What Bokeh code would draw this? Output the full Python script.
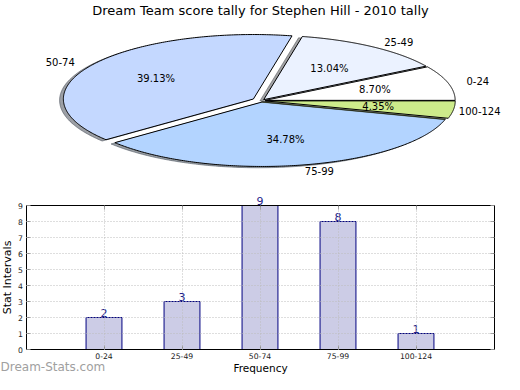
import numpy as np
from bokeh.plotting import figure
from bokeh.models import (ColumnDataSource, Label, Range1d, FixedTicker, LinearAxis, Grid)
from bokeh.layouts import column
from bokeh.embed import file_html
from bokeh.resources import INLINE
from bokeh.core.properties import value

# ---------------- data ----------------
title_text = "Dream Team score tally for Stephen Hill - 2010 tally"
categories = ["0-24", "25-49", "50-74", "75-99", "100-124"]
counts = [2, 3, 9, 8, 1]
pie_colors = ["#FFFFFF", "#EBF2FF", "#C4D8FF", "#B3D4FF", "#CDEB8B"]
explode = [0.02, 0.02, 0.05, 0.02, 0.02]
y_ticks = [0, 1, 2, 3, 4, 5, 6, 7, 8, 9]
y_label = "Stat Intervals"
x_label = "Frequency"
watermark = "Dream-Stats.com"

FONT = "DejaVu Sans"

# ---------------- layout constants ----------------
W = 504
H1 = 190
H2 = 184
RX = 190.0   # px per unit (horizontal)
RY = 64.5    # px per unit (vertical)
CX = 261.0   # pie centre, canvas px from left
CY = 100.2   # pie centre, canvas px from top

# ---------------- pie ----------------
p1 = figure(width=W, height=H1, output_backend="svg", toolbar_location=None,
            x_range=Range1d(-CX / RX, (W - CX) / RX),
            y_range=Range1d(-(H1 - CY) / RY, CY / RY),
            x_axis_location=None, y_axis_location=None, min_border=0, title=None)
p1.grid.visible = False
p1.outline_line_color = None

vals = np.array(counts, dtype=float)
frac = vals / vals.sum()
t2 = np.cumsum(frac) * 2 * np.pi
t1 = t2 - frac * 2 * np.pi
mid = (t1 + t2) / 2
ex = np.array(explode)
ox = ex * np.cos(mid)
oy = ex * np.sin(mid)


def hex_to_rgb(h):
    h = h.lstrip("#")
    return tuple(int(h[i:i + 2], 16) for i in (0, 2, 4))


xs, ys, fc, fa, lc, la = [], [], [], [], [], []
for a, b, dx, dy, col in zip(t1, t2, ox, oy, pie_colors):
    t = np.linspace(a, b, 200)
    px = np.concatenate([[0.0], np.cos(t), [0.0]]) + dx
    py = np.concatenate([[0.0], np.sin(t), [0.0]]) + dy
    r, g, bb = hex_to_rgb(col)
    shade = "#%02x%02x%02x" % (int(r * 0.3), int(g * 0.3), int(bb * 0.3))
    xs.append(list(px - 0.02)); ys.append(list(py - 0.02))
    fc.append(shade); fa.append(0.5); lc.append(shade); la.append(0.5)
    xs.append(list(px)); ys.append(list(py))
    fc.append(col); fa.append(1.0); lc.append("black"); la.append(1.0)

pie_src = ColumnDataSource(dict(xs=xs, ys=ys, fc=fc, fa=fa, lc=lc, la=la))
p1.patches("xs", "ys", source=pie_src, fill_color="fc", fill_alpha="fa",
           line_color="lc", line_alpha="la", line_width=1)

pct = ["%.2f%%" % (f * 100) for f in frac]
pct_src = ColumnDataSource(dict(x=ox + 0.6 * np.cos(mid), y=oy + 0.6 * np.sin(mid), t=pct))
p1.text("x", "y", text="t", source=pct_src, text_align="center", text_baseline="middle",
        text_font=value(FONT), text_font_size="10px", text_color="black")

lx = ox + 1.1 * np.cos(mid)
ly = oy + 1.1 * np.sin(mid)
right = lx > 0
for mask, align in ((right, "left"), (~right, "right")):
    labs = [c for c, m in zip(categories, mask) if m]
    xpx = CX + lx[mask] * RX
    if align == "left":
        # keep the label inside the canvas (approx. 6.1 px per character)
        xo = [min(0.0, (W - 3) - (xp + 6.1 * len(s))) for xp, s in zip(xpx, labs)]
    else:
        xo = [0.0] * len(labs)
    src = ColumnDataSource(dict(x=lx[mask], y=ly[mask], t=labs, xo=xo))
    p1.text("x", "y", text="t", source=src, text_align=align, text_baseline="middle",
            x_offset="xo", text_font=value(FONT), text_font_size="10px",
            text_color="black")

p1.add_layout(Label(x=260, y=H1 - 10, x_units="screen", y_units="screen", text=title_text,
                    text_align="center", text_baseline="middle", text_font=FONT,
                    text_font_size="13px", text_color="black"))

# ---------------- bar chart ----------------
XPX = 78.0             # px per category step
X0 = 103.5             # canvas px of first bar centre
Y9 = 205 - H1          # local px (from top) of value 9
Y0 = 349 - H1          # local px (from top) of value 0
YPX = (Y0 - Y9) / 9.0
LEFT_EDGE = -1.0       # frame edges in category units
RIGHT_EDGE = 5.0

idx = list(range(len(categories)))
p2 = figure(width=W, height=H2, output_backend="svg", toolbar_location=None,
            x_range=Range1d(-X0 / XPX, (W - X0) / XPX),
            y_range=Range1d(-(H2 - Y0) / YPX, 9 + Y9 / YPX),
            x_axis_location=None, y_axis_location=None, min_border=0, title=None)
p2.outline_line_color = None
p2.grid.visible = False

p2.vbar(x=idx, top=counts, width=0.46, fill_color="#CCCCE6",
        line_color="#000080", line_width=1)

# dotted grid drawn over the bars, limited to the inside of the axes box
inner_y = [t for t in y_ticks if y_ticks[0] < t < y_ticks[-1]]
gx = Grid(dimension=0, ticker=FixedTicker(ticks=idx), bounds=(LEFT_EDGE, RIGHT_EDGE),
          grid_line_color="#bdbdbd", grid_line_dash="1 2", level="guide")
gy = Grid(dimension=1, ticker=FixedTicker(ticks=inner_y), bounds=(0, 9),
          grid_line_color="#bdbdbd", grid_line_dash="1 2", level="guide")
gx.cross_bounds = (0, 9)
gy.cross_bounds = (LEFT_EDGE, RIGHT_EDGE)
p2.add_layout(gx, "center")
p2.add_layout(gy, "center")


def style_axis(ax, labels=True):
    ax.axis_line_color = "black"
    ax.major_tick_in = 4
    ax.major_tick_out = 0
    ax.minor_tick_in = 0
    ax.minor_tick_out = 0
    ax.major_tick_line_color = "#8c8c8c"
    ax.major_label_text_font = FONT
    ax.major_label_text_font_size = "7.7px"
    ax.major_label_text_color = "#222222" if labels else None
    ax.major_label_standoff = 3
    ax.axis_label_text_font = FONT
    ax.axis_label_text_font_size = "10.5px"
    ax.axis_label_text_font_style = "normal"
    ax.axis_label_text_color = "black"


xb = LinearAxis(fixed_location=0, bounds=(LEFT_EDGE, RIGHT_EDGE),
                ticker=FixedTicker(ticks=idx),
                major_label_overrides={i: c for i, c in enumerate(categories)},
                axis_label=x_label)
style_axis(xb)
xb.axis_label_standoff = 0
p2.add_layout(xb, "below")

xt = LinearAxis(fixed_location=9, bounds=(LEFT_EDGE, RIGHT_EDGE),
                ticker=FixedTicker(ticks=idx))
style_axis(xt, labels=False)
p2.add_layout(xt, "above")

yl = LinearAxis(fixed_location=LEFT_EDGE, bounds=(0, 9), ticker=FixedTicker(ticks=y_ticks),
                axis_label=y_label)
style_axis(yl)
yl.axis_label_text_font_size = "11px"
yl.axis_label_standoff = 2
p2.add_layout(yl, "left")

yr = LinearAxis(fixed_location=RIGHT_EDGE, bounds=(0, 9), ticker=FixedTicker(ticks=y_ticks))
style_axis(yr, labels=False)
p2.add_layout(yr, "right")

val_src = ColumnDataSource(dict(x=idx, y=counts, t=[str(c) for c in counts]))
p2.text("x", "y", text="t", source=val_src, text_align="center",
        text_baseline="middle", y_offset=-5, text_font=value(FONT),
        text_font_size="11px", text_color="#22228a")

p2.add_layout(Label(x=0, y=H2 - (366 - H1), x_units="screen", y_units="screen",
                    text=watermark, text_align="left", text_baseline="middle",
                    text_font=FONT, text_font_size="12px", text_color="#a0a0a0"))

layout = column(p1, p2, spacing=0)
open("out.html", "w").write(file_html(layout, INLINE))
